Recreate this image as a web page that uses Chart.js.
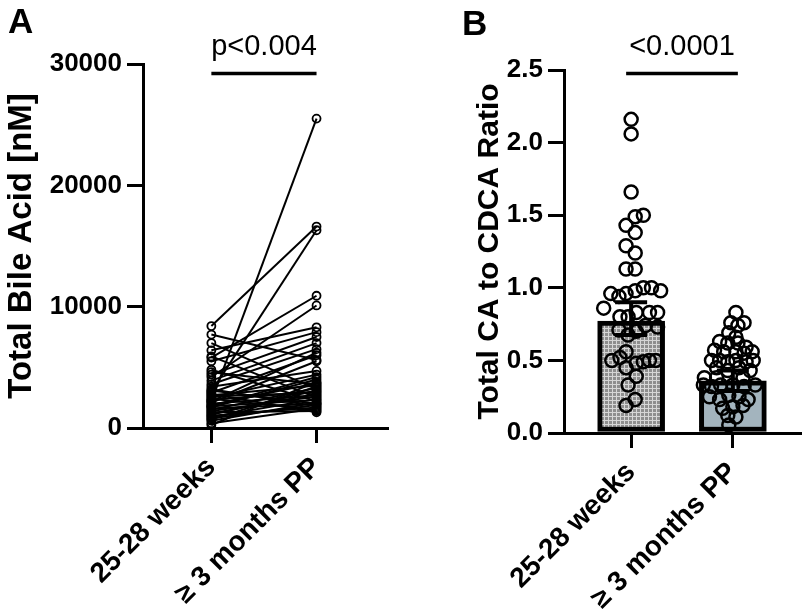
<!DOCTYPE html>
<html>
<head>
<meta charset="utf-8">
<script src="https://cdn.jsdelivr.net/npm/chart.js@4.4.0/dist/chart.umd.min.js"></script>
<style>
  body { margin: 0; background: #fff; width: 809px; height: 612px; position: relative; overflow: hidden;
         font-family: "Liberation Sans", Arial, sans-serif; }
  canvas { position: absolute; top: 0; }
  #chartA { left: 0; }
  #chartB { left: 420px; }
  .tag { position: absolute; font-weight: bold; font-size: 35px; line-height: 1; }
</style>
</head>
<body>
<canvas id="chartA" width="420" height="612"></canvas>
<canvas id="chartB" width="389" height="612"></canvas>
<div class="tag" style="left:8px; top:3px;">A</div>
<div class="tag" style="left:462px; top:5px;">B</div>
<script>
const groups = ['25-28 weeks', '≥ 3 months PP'];

// Panel A: total bile acid [nM], paired by subject
const bileWeeks = [2200, 8400, 3000, 5800, 4200, 7700, 7000, 6400, 5900, 5500,
                   4800, 4400, 3900, 3600, 3400, 3200, 2900, 2700, 2600, 2500,
                   2400, 2300, 2100, 2000, 1900, 1800, 1700, 1600, 1500, 1400,
                   1300, 1200, 1100, 1000, 900, 800, 700, 600, 400, 250,
                   2800, 3100, 1800, 2200, 4600];
const bilePP = [25500, 16600, 16300, 10900, 10100, 5600, 3200, 8300, 2500, 7900,
                2200, 7500, 7000, 6500, 4700, 1800, 6000, 3500, 2900, 4400,
                1500, 3000, 5500, 2700, 3700, 2300, 4000, 2000, 3300, 2600,
                1400, 2800, 3100, 1700, 2400, 1900, 3400, 2100, 1600, 3800,
                1300, 2000, 4200, 6200, 3600];
const bileTicks = [0, 10000, 20000, 30000];

// Panel B: CA to CDCA ratio, individual values and horizontal scatter (fraction of group spacing)
const ratioWeeks = [2.16, 2.06, 1.66, 1.49, 1.50, 1.43, 1.38, 1.29, 1.24, 1.13, 1.13,
                    0.96, 0.94, 0.96, 0.98, 1.00, 1.00, 0.98,
                    0.86, 0.80, 0.80, 0.83, 0.83, 0.83,
                    0.71, 0.675, 0.70, 0.74, 0.73, 0.56,
                    0.50, 0.52, 0.45, 0.48, 0.49, 0.50, 0.50,
                    0.39, 0.33, 0.23, 0.19];
const jitterWeeks = [0, 0, 0, 0.04, 0.12, -0.05, 0.04, -0.05, 0.04, -0.05, 0.04,
                     -0.2, -0.12, -0.05, 0.04, 0.12, 0.2, 0.29,
                     -0.27, -0.11, -0.03, 0.05, 0.18, 0.26,
                     -0.12, -0.03, 0.05, 0.14, 0.26, -0.05,
                     -0.19, -0.11, -0.05, 0.05, 0.12, 0.18, 0.24,
                     0.05, -0.03, 0.04, -0.05];
const ratioPP = [0.83, 0.76, 0.74, 0.76, 0.69, 0.66,
                 0.63, 0.62, 0.62, 0.59, 0.57, 0.56, 0.56, 0.55, 0.56,
                 0.50, 0.50, 0.49, 0.50, 0.49, 0.50,
                 0.45, 0.43, 0.45, 0.43, 0.38, 0.38, 0.38,
                 0.33, 0.32, 0.33, 0.33, 0.32, 0.33,
                 0.25, 0.23, 0.26, 0.25, 0.23,
                 0.17, 0.18, 0.19, 0.12, 0.11, 0.055];
const jitterPP = [0.03, -0.02, 0.05, 0.11, -0.04, 0.03,
                  -0.13, -0.05, 0.05, 0.13, -0.18, -0.09, 0.03, 0.11, 0.19,
                  -0.21, -0.13, -0.05, 0.03, 0.13, 0.2,
                  -0.16, -0.05, 0.06, 0.17, -0.28, -0.16, 0.1,
                  -0.29, -0.21, -0.12, 0, 0.11, 0.22,
                  -0.23, -0.13, -0.04, 0.06, 0.15,
                  -0.1, 0, 0.1, -0.05, 0.03, -0.04];
const ratioMean = [0.77, 0.36];
const ratioErrLow = [0.675, 0.29];
const ratioErrHigh = [0.90, 0.43];
const ratioTicks = [0, 0.5, 1, 1.5, 2, 2.5];

const FONT = '"Liberation Sans", Arial, sans-serif';
Chart.defaults.font.family = FONT;
Chart.defaults.color = '#000';

function xAxis(h, lo, hi) {
  return {
    type: 'linear', min: lo, max: hi, offset: false,
    afterBuildTicks: s => { s.ticks = groups.map((g, i) => ({ value: i })); },
    afterFit: s => { s.height = h; s.paddingLeft = 0; s.paddingRight = 0; },
    ticks: { callback: v => groups[v], minRotation: 45, maxRotation: 45, autoSkip: false,
             font: { size: 28, weight: 'bold' }, padding: 8, color: '#000' },
    grid: { drawOnChartArea: false, tickLength: 15, lineWidth: 3, color: '#000', offset: false },
    border: { color: '#000', width: 3 }
  };
}

function yAxis(w, max, vals, fmt, title, titleSize, titlePad) {
  return {
    type: 'linear', min: 0, max: max,
    afterBuildTicks: s => { s.ticks = vals.map(v => ({ value: v })); },
    afterFit: s => { s.width = w; s.paddingTop = 0; s.paddingBottom = 0; },
    ticks: { callback: fmt, font: { size: 26, weight: 'bold' }, padding: 5, color: '#000' },
    grid: { drawOnChartArea: false, tickLength: 16, lineWidth: 3, color: '#000' },
    border: { color: '#000', width: 3 },
    title: { display: true, text: title, color: '#000', font: { size: titleSize, weight: 'bold' },
             padding: { top: titlePad, bottom: 0 } }
  };
}

// significance bar + p value above the two groups
const sigLine = {
  id: 'sigLine',
  afterDraw(chart, args, opts) {
    const { ctx, scales: { x } } = chart;
    const x0 = x.getPixelForValue(0) - opts.extend;
    const x1 = x.getPixelForValue(1) + opts.extend;
    ctx.save();
    ctx.fillStyle = '#000';
    ctx.font = '29px ' + FONT;
    ctx.textAlign = 'center';
    ctx.fillText(opts.text, (x0 + x1) / 2, 55);
    ctx.strokeStyle = '#000';
    ctx.lineWidth = 3.5;
    ctx.beginPath();
    ctx.moveTo(x0, 73.5);
    ctx.lineTo(x1, 73.5);
    ctx.stroke();
    ctx.restore();
  }
};

const errorBars = {
  id: 'errorBars',
  afterDatasetDraw(chart, args) {
    if (args.index !== 0) return;
    const { ctx, scales: { x, y } } = chart;
    ctx.save();
    ctx.strokeStyle = '#000';
    ctx.lineWidth = 4;
    ratioMean.forEach((m, i) => {
      const px = x.getPixelForValue(i);
      const top = y.getPixelForValue(ratioErrHigh[i]);
      const bot = y.getPixelForValue(ratioErrLow[i]);
      ctx.beginPath();
      ctx.moveTo(px, top); ctx.lineTo(px, bot);
      ctx.moveTo(px - 16, top); ctx.lineTo(px + 16, top);
      ctx.moveTo(px - 16, bot); ctx.lineTo(px + 16, bot);
      ctx.stroke();
    });
    ctx.restore();
  }
};

function gridPattern() {
  const c = document.createElement('canvas');
  c.width = 4; c.height = 4;
  const g = c.getContext('2d');
  g.fillStyle = '#8e8e8e';
  g.fillRect(0, 0, 4, 4);
  g.fillStyle = '#d6d6d6';
  g.fillRect(0, 0, 4, 1);
  g.fillRect(0, 0, 1, 4);
  return g.createPattern(c, 'repeat');
}

const baseOpts = {
  responsive: false,
  animation: false,
  events: [],
  plugins: { legend: { display: false }, tooltip: { enabled: false } }
};

new Chart(document.getElementById('chartA'), {
  type: 'scatter',
  data: {
    datasets: bileWeeks.map((w, i) => ({
      data: [{ x: 0, y: w }, { x: 1, y: bilePP[i] }],
      showLine: true,
      borderColor: '#000',
      borderWidth: 2,
      pointRadius: 4,
      pointBorderWidth: 1.8,
      pointBorderColor: '#000',
      pointBackgroundColor: 'rgba(0,0,0,0)'
    }))
  },
  options: {
    ...baseOpts,
    layout: { padding: { left: 0, top: 64, right: 33, bottom: 0 } },
    scales: {
      x: xAxis(184, -0.65, 1.67),
      y: yAxis(143, 30000, bileTicks, v => String(v), 'Total Bile Acid [nM]', 33, 2)
    },
    plugins: { ...baseOpts.plugins, sigLine: { text: 'p<0.004', extend: 0 } }
  },
  plugins: [sigLine]
});

const pointStyle = {
  type: 'scatter',
  pointRadius: 6.5,
  pointBorderWidth: 2.5,
  pointBorderColor: '#000',
  pointBackgroundColor: 'rgba(0,0,0,0)',
  order: 1
};

new Chart(document.getElementById('chartB'), {
  type: 'scatter',
  data: {
    datasets: [
      {
        type: 'bar',
        data: ratioMean.map((m, i) => ({ x: i, y: m })),
        backgroundColor: [gridPattern(), '#a3b4be'],
        borderColor: '#000',
        borderWidth: 5,
        borderSkipped: false,
        barThickness: 67,
        order: 3
      },
      { ...pointStyle, data: ratioWeeks.map((v, i) => ({ x: jitterWeeks[i], y: v })) },
      { ...pointStyle, data: ratioPP.map((v, i) => ({ x: 1 + jitterPP[i], y: v })) }
    ]
  },
  options: {
    ...baseOpts,
    layout: { padding: { left: 0, top: 70, right: 3, bottom: 0 } },
    scales: {
      x: xAxis(179, -0.66, 1.66),
      y: yAxis(144, 2.5, ratioTicks, v => v.toFixed(1), 'Total CA to CDCA Ratio', 30, 52)
    },
    plugins: { ...baseOpts.plugins, sigLine: { text: '<0.0001', extend: 5 } }
  },
  plugins: [errorBars, sigLine]
});
</script>
</body>
</html>
